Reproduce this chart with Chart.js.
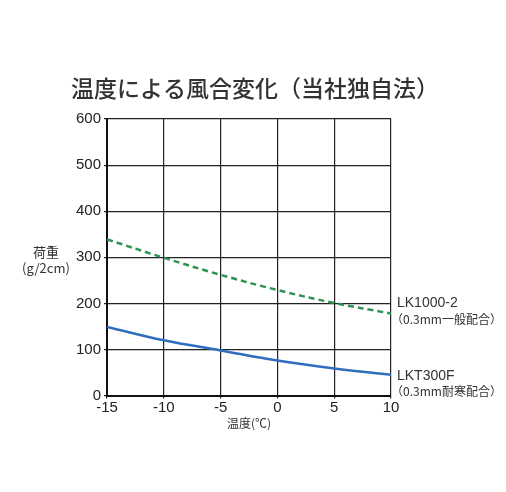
<!DOCTYPE html>
<html>
<head>
<meta charset="utf-8">
<script src="https://cdn.jsdelivr.net/npm/chart.js@4/dist/chart.umd.min.js"></script>
<style>
  html, body { margin: 0; padding: 0; background: #fff; }
  #wrap { width: 506px; height: 492px; }
</style>
</head>
<body>
<div id="wrap"><canvas id="chart"></canvas></div>
<script>
// temperature (°C)
const temps = [-15, -10, -5, 0, 5, 10];
// load (g/2cm)
const generalValues = [339, 299, 262, 229, 201, 178];
const coldValues = [149, 120, 98, 76, 59, 45];
const seriesNames = ['LK1000-2', 'LKT300F'];
const seriesNotes = ['（0.3mm一般配合）', '（0.3mm耐寒配合）'];
const chartTitle = '温度による風合変化（当社独自法）';

const numFont = "'Liberation Sans', Arial, sans-serif";
const jpFont = "'Noto Sans CJK JP', sans-serif";

// title, labels to the right of the last point, and the y axis caption
const sideLabels = {
    id: 'sideLabels',
    afterDraw(chart) {
        const ctx = chart.ctx;
        const x = chart.scales.x;
        const y = chart.scales.y;
        ctx.save();
        ctx.fillStyle = '#333';
        ctx.textBaseline = 'middle';

        ctx.textAlign = 'center';
        ctx.font = '500 23px ' + jpFont;
        ctx.fillText(chartTitle, chart.width / 2 + 2, 88);

        ctx.textAlign = 'left';
        const offsets = [[-10, 6], [1, 15]];
        chart.data.datasets.forEach((ds, i) => {
            const last = ds.data[ds.data.length - 1];
            const px = x.getPixelForValue(last.x) + 6;
            const py = y.getPixelForValue(last.y);
            ctx.font = '14px ' + numFont;
            ctx.fillText(seriesNames[i], px, py + offsets[i][0]);
            ctx.font = '12px ' + jpFont;
            ctx.fillText(seriesNotes[i], px - 6, py + offsets[i][0] + 16);
        });
        // y caption
        ctx.textAlign = 'center';
        ctx.font = '13px ' + jpFont;
        ctx.fillText('荷重', 46, 252);
        ctx.fillText('(g/2cm)', 46, 268);
        ctx.restore();
    }
};

const ctx = document.getElementById('chart').getContext('2d');
new Chart(ctx, {
    type: 'line',
    data: {
        datasets: [
            {
                label: seriesNames[0],
                data: temps.map((t, i) => ({ x: t, y: generalValues[i] })),
                borderColor: '#2f9352',
                borderWidth: 2.5,
                borderDash: [6, 4],
                pointRadius: 0,
                tension: 0.4,
                fill: false
            },
            {
                label: seriesNames[1],
                data: temps.map((t, i) => ({ x: t, y: coldValues[i] })),
                borderColor: '#2f6dbd',
                borderWidth: 2.5,
                pointRadius: 0,
                tension: 0.4,
                fill: false
            }
        ]
    },
    options: {
        responsive: true,
        maintainAspectRatio: false,
        animation: false,
        layout: {
            padding: { left: 0, right: 115, top: 119, bottom: 61 }
        },
        plugins: {
            legend: { display: false },
            tooltip: { enabled: false },
            title: { display: false }
        },
        scales: {
            x: {
                type: 'linear',
                min: -15,
                max: 10,
                ticks: {
                    stepSize: 5,
                    color: '#222',
                    font: { family: numFont, size: 15 },
                    padding: 0
                },
                grid: { color: '#222', lineWidth: 1.2, tickLength: 3 },
                border: { color: '#111', width: 2 },
                title: {
                    display: true,
                    text: '温度(℃)',
                    color: '#333',
                    font: { family: jpFont, size: 12 },
                    padding: { top: 0, bottom: 0 }
                }
            },
            y: {
                min: 0,
                max: 600,
                ticks: {
                    stepSize: 100,
                    color: '#222',
                    font: { family: numFont, size: 15 },
                    padding: 3
                },
                grid: { color: '#222', lineWidth: 1.2, tickLength: 3 },
                border: { color: '#111', width: 2 },
                afterFit(scale) { scale.width = 107; }
            }
        }
    },
    plugins: [sideLabels]
});
</script>
</body>
</html>
